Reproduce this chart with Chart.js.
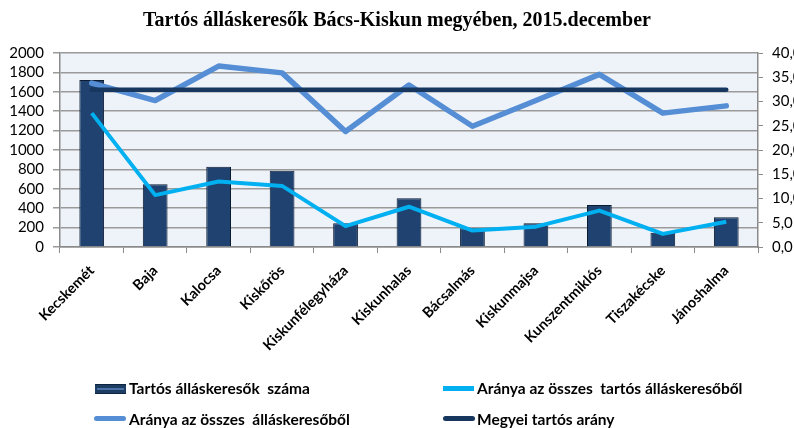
<!DOCTYPE html>
<html><head><meta charset="utf-8">
<script src="https://cdn.jsdelivr.net/npm/chart.js@4.4.1/dist/chart.umd.min.js"></script>
<style>
html,body{margin:0;padding:0;background:#fff;}
#wrap{position:relative;width:794px;height:428px;overflow:hidden;}
#c{position:absolute;left:0;top:0;}
.lt{position:absolute;font:bold 15.5px Lato,'DejaVu Sans Condensed',sans-serif;color:#000;white-space:nowrap;line-height:18px;}
.ls{position:absolute;}
</style></head>
<body>
<div id="wrap">
<canvas id="c" width="794" height="428"></canvas>
<div class="ls" style="left:95px;top:384px;width:31px;height:8px;background:#1E3D63;border-top:1px solid #0F2440;border-bottom:1px solid #0F2440;"><div style="margin:3px 2px 0 2px;height:2px;background:#4A72A6"></div></div>
<div class="lt" style="left:129px;top:379px;">Tartós álláskeresők&nbsp; száma</div>
<div class="ls" style="left:443px;top:386px;width:31px;height:5px;background:#00B0F0;"></div>
<div class="lt" style="left:477px;top:379px;">Aránya az összes&nbsp; tartós álláskeresőből</div>
<div class="ls" style="left:94px;top:416px;width:32px;height:5px;border-radius:3px;background:#558ED5;"></div>
<div class="lt" style="left:129px;top:410px;">Aránya az összes&nbsp; álláskeresőből</div>
<div class="ls" style="left:443px;top:416px;width:32px;height:5px;border-radius:3px;background:#17375E;"></div>
<div class="lt" style="left:477px;top:410px;">Megyei tartós arány</div>
</div>
<script>
const categories = ['Kecskemét','Baja','Kalocsa','Kiskőrös','Kiskunfélegyháza','Kiskunhalas','Bácsalmás','Kiskunmajsa','Kunszentmiklós','Tiszakécske','Jánoshalma'];
const tartosSzama = [1722, 646, 828, 787, 244, 502, 193, 244, 433, 147, 306];
const aranyaTartos = [27.6, 10.7, 13.5, 12.6, 4.3, 8.3, 3.4, 4.2, 7.5, 2.7, 5.2];
const aranyaOsszes = [33.8, 30.2, 37.3, 35.9, 23.8, 33.4, 24.9, 30.2, 35.6, 27.6, 29.1];
const megyeiArany = [32.4, 32.4, 32.4, 32.4, 32.4, 32.4, 32.4, 32.4, 32.4, 32.4, 32.4];
const leftTicks = ['0','200','400','600','800','1000','1200','1400','1600','1800','2000'];
const rightTicks = ['0,0','5,0','10,0','15,0','20,0','25,0','30,0','35,0','40,0'];

const bgPlugin = {
  id: 'bg',
  beforeDraw(chart) {
    const a = chart.chartArea, ctx = chart.ctx;
    ctx.save();
    ctx.fillStyle = '#EEF3FA';
    ctx.fillRect(a.left, a.top, a.right - a.left, a.bottom - a.top);
    ctx.restore();
  }
};

function barFill(context) {
  const chart = context.chart;
  const el = context.element;
  if (!el || el.x === undefined || isNaN(el.x)) return '#1F4270';
  const w = el.width || 25;
  const g = chart.ctx.createLinearGradient(el.x - w / 2, 0, el.x + w / 2, 0);
  g.addColorStop(0, '#16325A');
  g.addColorStop(0.2, '#24497A');
  g.addColorStop(0.55, '#234A7A');
  g.addColorStop(0.85, '#1A3A64');
  g.addColorStop(1, '#0C1B30');
  return g;
}

const tickFont = {family: "Lato,'DejaVu Sans Condensed',sans-serif", size: 15};

new Chart(document.getElementById('c'), {
  data: {
    labels: categories,
    datasets: [
      {type: 'bar', label: 'Tartós álláskeresők száma', data: tartosSzama, yAxisID: 'y',
       backgroundColor: barFill, borderColor: '#0B1B30', borderWidth: 1,
       categoryPercentage: 1, barPercentage: 0.39, order: 4},
      {type: 'line', label: 'Aránya az összes tartós álláskeresőből', data: aranyaTartos, yAxisID: 'y1',
       borderColor: '#00B0F0', borderWidth: 4, pointRadius: 0, tension: 0, order: 3, borderJoinStyle: 'round'},
      {type: 'line', label: 'Aránya az összes álláskeresőből', data: aranyaOsszes, yAxisID: 'y1',
       borderColor: '#558ED5', borderWidth: 5.5, pointRadius: 0, tension: 0, order: 2, borderJoinStyle: 'round', borderCapStyle: 'round'},
      {type: 'line', label: 'Megyei tartós arány', data: megyeiArany, yAxisID: 'y1',
       borderColor: '#17375E', borderWidth: 4.5, pointRadius: 0, tension: 0, order: 1, borderCapStyle: 'round'}
    ]
  },
  options: {
    responsive: false,
    animation: false,
    layout: {padding: {left: 0, right: 0, top: 0, bottom: 0}},
    plugins: {
      legend: {display: false},
      tooltip: {enabled: false},
      title: {display: true, text: 'Tartós álláskeresők Bács-Kiskun megyében, 2015.december',
        color: '#000', font: {family: "'Liberation Serif','Times New Roman',serif", size: 20, weight: 'bold'},
        padding: {top: 9, bottom: 20}}
    },
    scales: {
      x: {
        offset: true,
        grid: {display: true, drawOnChartArea: false, color: '#8A8A8A', tickLength: 6, offset: true},
        border: {color: '#8A8A8A', width: 1.5},
        ticks: {minRotation: 45, maxRotation: 45, autoSkip: false, color: '#000', padding: 9,
          font: {family: "Lato,'DejaVu Sans Condensed',sans-serif", size: 14.5, weight: 'bold'}},
        afterFit(s) { s.height = 181; }
      },
      y: {
        position: 'left', min: 0, max: 2000,
        afterBuildTicks(s) { s.ticks = leftTicks.map((t, i) => ({value: i * 200})); },
        grid: {color: '#9A9A9A', lineWidth: 1.5, tickLength: 7},
        border: {color: '#8A8A8A', width: 1.5},
        ticks: {color: '#000', font: tickFont, padding: 9, autoSkip: false,
          callback: (v, i) => leftTicks[i]},
        afterFit(s) { s.width = 60; }
      },
      y1: {
        position: 'right', min: 0, max: 40,
        afterBuildTicks(s) { s.ticks = rightTicks.map((t, i) => ({value: i * 5})); },
        grid: {drawOnChartArea: false, color: '#8A8A8A', tickLength: 5},
        border: {color: '#8A8A8A', width: 1.5},
        ticks: {color: '#000', font: tickFont, padding: 9, autoSkip: false,
          callback: (v, i) => rightTicks[i]},
        afterFit(s) { s.width = 36; }
      }
    }
  },
  plugins: [bgPlugin]
});
</script>
</body></html>
